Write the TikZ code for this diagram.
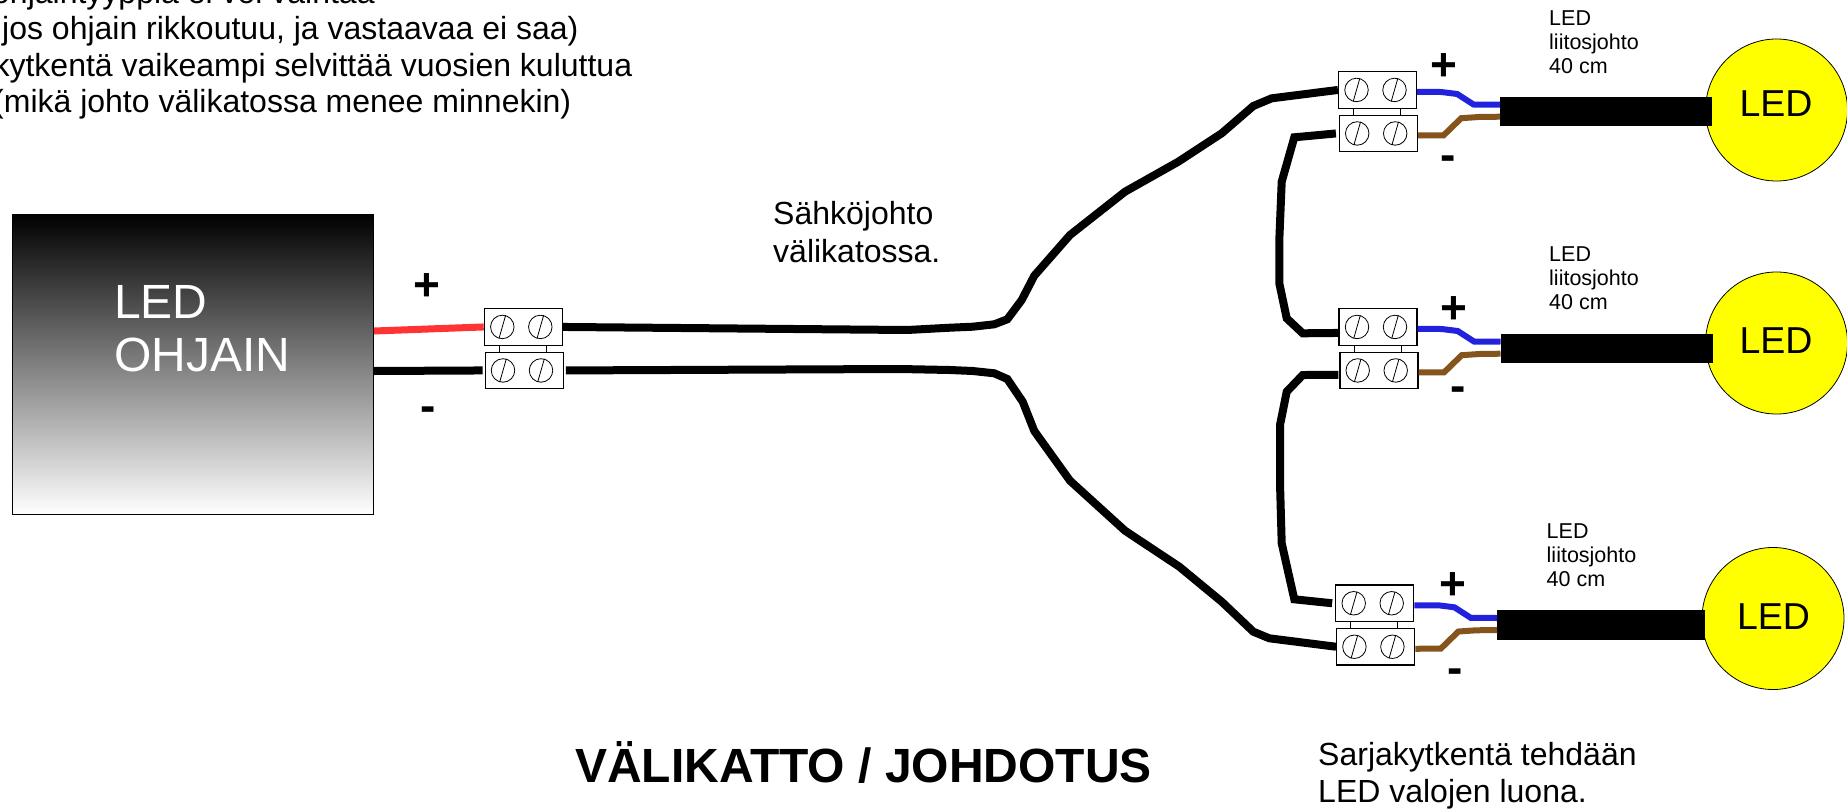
\documentclass[tikz,border=0pt]{standalone}
\usepackage{fontspec}
\setmainfont{Liberation Sans}
\newcommand{\pxfont}[1]{\fontsize{#1}{#1}\selectfont}
\definecolor{ledyellow}{RGB}{255,255,0}
\definecolor{redwire}{RGB}{255,51,51}
\definecolor{bluewire}{RGB}{34,34,221}
\definecolor{brownwire}{RGB}{133,83,28}

\begin{document}
\begin{tikzpicture}
      [%%%%%%%%%%%%%%%%%%%%%%%%%%%%%%
      x=1pt,y=-1pt,
      block/.style={rectangle,draw=black,line width=1.2pt,fill=white,minimum width=78pt,minimum height=36.5pt,inner sep=0pt},
      screw/.style={circle,draw=black,line width=0.8pt,minimum size=23.5pt,inner sep=0pt},
      wire/.style={line width=8pt,draw=black},
      thin wire/.style={line width=6pt},
      cable/.style={rectangle,fill=black,minimum height=29.5pt,inner sep=0pt},
      lamp/.style={circle,draw=black,line width=0.8pt,fill=ledyellow,minimum size=142pt,inner sep=0pt},
      label/.style={anchor=base west,inner sep=0pt,font=\pxfont{32}},
      small/.style={align=left,anchor=north west,inner sep=0pt,font=\fontsize{21.5}{24}\selectfont},
      sign/.style={inner sep=0pt,font=\pxfont{46}\bfseries},
      ]%%%%%%%%%%%%%%%%%%%%%%%%%%%%%%
      \useasboundingbox (0,0) rectangle (1847,811);

      % header text
      \foreach \n/\x/\y/\t in {1/-8/3/ohjaintyyppiä ei voi vaihtaa,
                               2/2/39/{jos ohjain rikkoutuu, ja vastaavaa ei saa)},
                               3/-6.6/76/kytkentä vaikeampi selvittää vuosien kuluttua,
                               4/-7/112/(mikä johto välikatossa menee minnekin)}
        \node[label] (head\n) at (\x,\y) {\t};

      % controller
      \node[rectangle,draw=black,line width=0.8pt,top color=black,bottom color=white,
            minimum width=361pt,minimum height=300pt] (driver) at (192.5,364) {};
      \node[anchor=west,align=left,text=white,inner sep=0pt,font=\pxfont{48}] (drivertext) at (114,329)
        {LED\\[5pt]OHJAIN};

      % terminal blocks
      \foreach \n/\x/\y in {a/484.3/308.7,b/1338.5/71.7,c/1339/308.7,d/1335.7/585}{
        \node[rectangle,draw=black,line width=1pt,minimum width=47pt,minimum height=12pt] (\n link) at (\x+38.5,\y+40) {};
        \node[block] (\n p) at (\x+39,\y+18.25) {};
        \node[block] (\n m) at (\x+40,\y+61.75) {};
        \foreach \s/\dx in {1/18,2/56}{
          \node[screw] (\n p\s) at (\x+\dx,\y+18.25) {};
          \node[screw] (\n m\s) at (\x+\dx+0.7,\y+61.75) {};
          \draw[line width=0.8pt] (\n p\s.254) -- (\n p\s.74);
          \draw[line width=0.8pt] (\n m\s.254) -- (\n m\s.74);
        }
      }

      % feed from controller
      \coordinate (redstart) at (374,331);
      \coordinate (blackstart) at (374,371);
      \draw[line width=7pt,draw=redwire] (redstart) -- (ap.west);
      \draw[wire] (blackstart) -- ([xshift=-2pt]am.west);

      % main wires
      \draw[wire] (ap.east) -- (907,330) -- (950,327.7) -- (972.7,326.7) -- (994.3,324.3) -- (1007.3,319.3)
        -- (1021.7,300) -- (1034.3,275.7) -- (1070,235) -- (1125,191.7) -- (1178.3,161.7) -- (1221.7,133.3)
        -- (1253.3,106) -- (1271.7,98.3) -- (bp.west);
      \draw[wire] ([xshift=2pt]am.east) -- (900,369) -- (950,370) -- (972.7,371) -- (994.3,373.3) -- (1007.3,379)
        -- (1022.7,401.7) -- (1034.3,431) -- (1070,480.7) -- (1125,530.7) -- (1179.3,566.7) -- (1221.7,601.7)
        -- (1253.3,631.7) -- (1269.3,638.3) -- (dm.west);

      % series loops
      \draw[wire] ([xshift=-3pt]bm.west) -- (1294.3,137.3) -- (1281.7,181.7) -- (1279.3,240) -- (1279.3,283.3)
        -- (1286.7,318.3) -- (1302.7,333.3) -- ([yshift=-6pt]cp.west);
      \draw[wire] ([xshift=-1pt,yshift=-4.5pt]cm.west) -- (1302.7,375) -- (1286.7,391.7) -- (1280,425) -- (1280,483.3)
        -- (1281.7,543.3) -- (1294.3,599.3) -- ([xshift=-3pt]dp.west);

      % led ends
      \foreach \n/\x/\y/\lx/\ly/\tx/\ty/\w in {b/1338.5/71.7/1776.5/110/1776/104/212,
                                              c/1339/308.7/1776.5/343/1776/341/212,
                                              d/1335.7/585/1773/618.5/1773.5/617/208}{
        \node[lamp] (\n lamp) at (\lx,\ly) {};
        \node[cable,minimum width=\w pt] (\n cable) at (\x+161.7+\w/2,\y+40) {};
        \draw[thin wire,draw=bluewire] ([yshift=-2pt]\n p.east) -- (\x+102.7,\y+20.3)
          -- (\x+118.7,\y+22.3) -- (\x+135,\y+32.8) -- ([yshift=7pt]\n cable.west);
        \draw[thin wire,draw=brownwire] ([yshift=-2pt]\n m.east) -- (\x+105,\y+63.7)
          -- (\x+122.7,\y+46.5) -- (\x+140.3,\y+45.3) -- ([yshift=-5pt]\n cable.west);
        \node[inner sep=0pt,font=\pxfont{37.5}] (\n ledtext) at (\tx,\ty) {LED};
      }

      % cable labels
      \node[small] (btext) at (1549,11) {LED\\liitosjohto\\40 cm};
      \node[small] (ctext) at (1549,247) {LED\\liitosjohto\\40 cm};
      \node[small] (dtext) at (1546.5,524) {LED\\liitosjohto\\40 cm};

      % polarity
      \foreach \n/\x/\y/\t in {a/426.7/287.5/+,b/1444/67.5/+,c/1454/310.5/+,d/1452.7/586.5/+,
                               e/427.7/414/-,f/1448/163/-,g/1457.7/394/-,h/1455.3/676/-}
        \node[sign] (sign\n) at (\x,\y) {\t};

      % texts
      \node[label] (wiretext1) at (773,224) {Sähköjohto};
      \node[label] (wiretext2) at (773,262) {välikatossa.};
      \node[anchor=base,inner sep=0pt,font=\pxfont{48}\bfseries] (title) at (863.5,782) {VÄLIKATTO / JOHDOTUS};
      \node[label] (note1) at (1318,765) {Sarjakytkentä tehdään};
      \node[label] (note2) at (1318,802) {LED valojen luona.};
    \end{tikzpicture}
\end{document}
